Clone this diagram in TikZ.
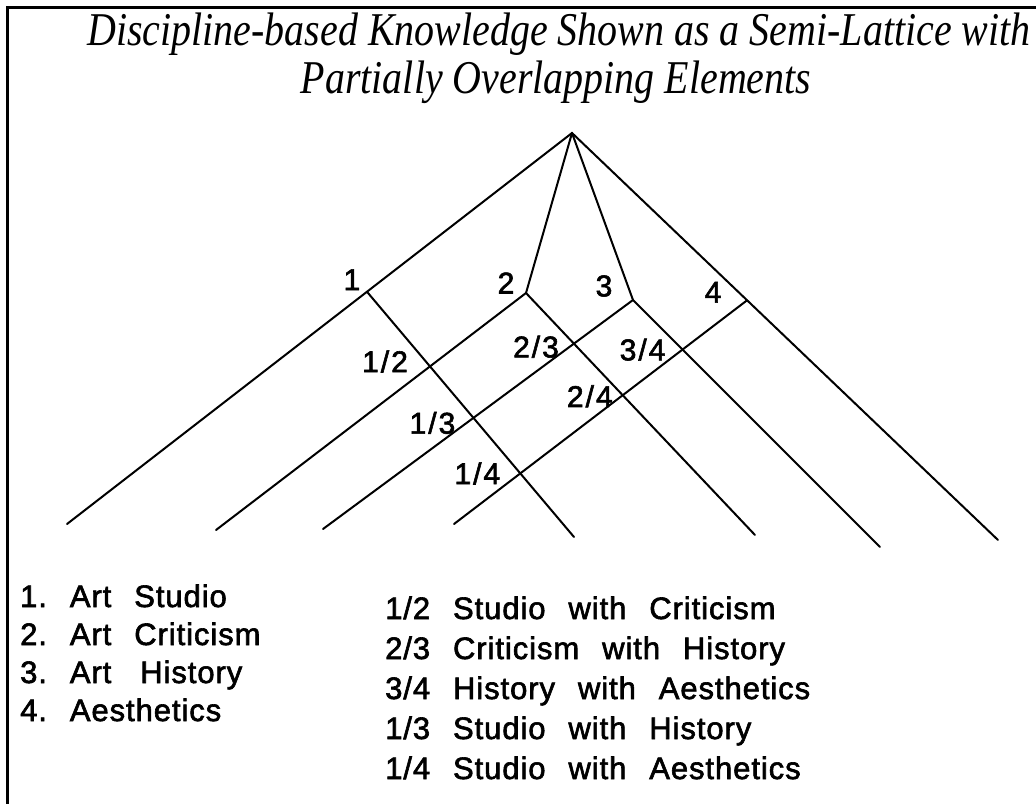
\documentclass[tikz,border=0pt]{standalone}
\usepackage{fontspec}
\usepackage{graphicx}
\setmainfont{Liberation Serif}
\newfontfamily\lblfont[FakeBold=2]{Liberation Sans}
\newfontfamily\legfont[LetterSpace=3,WordSpace=2.4,FakeBold=2]{Liberation Sans}
\usetikzlibrary{calc}
\begin{document}
\begin{tikzpicture}[x=1pt,y=-1pt,
  lat/.style={line width=2pt,line cap=round},
  lbl/.style={font=\lblfont\fontsize{30}{30}\selectfont,inner sep=0pt},
  leg/.style={font=\legfont\fontsize{31}{31}\selectfont,anchor=base west,inner sep=0pt},
  ttl/.style={font=\itshape\fontsize{47}{47}\selectfont,anchor=base,inner sep=0pt}]
\useasboundingbox (0,0) rectangle (1036,804);
\fill[white] (0,0) rectangle (1036,804);
\draw[line width=3pt] (1036,7) -- (7,7) -- (7,804);
% title
\node[ttl] (t1) at (559,45) {\scalebox{0.85}[1]{Discipline-based Knowledge Shown as a Semi-Lattice with}};
\node[ttl] (t2) at (556,93) {\scalebox{0.85}[1]{Partially Overlapping Elements}};
% lattice geometry
\coordinate (apex) at (572,133);
\coordinate (e0) at (67,524);
\coordinate (f4) at (998,540);
\coordinate (n1) at ($(apex)!0.406!(e0)$);
\coordinate (n4) at ($(apex)!0.411!(f4)$);
\coordinate (n2) at (526,293);
\coordinate (n3) at (633,300);
\coordinate (f1) at (574,537);
\coordinate (e2) at (216,530);
\coordinate (f2) at (755,535);
\coordinate (e3) at (323,529);
\coordinate (f3) at (880,547);
\coordinate (e4) at (454,524);
\coordinate (p12) at (intersection of n1--f1 and n2--e2);
\coordinate (p13) at (intersection of n1--f1 and n3--e3);
\coordinate (p14) at (intersection of n1--f1 and n4--e4);
\coordinate (p23) at (intersection of n2--f2 and n3--e3);
\coordinate (p24) at (intersection of n2--f2 and n4--e4);
\coordinate (p34) at (intersection of n3--f3 and n4--e4);
\draw[lat] (e0) -- (apex) -- (f4);
\draw[lat] (apex) -- (n2);
\draw[lat] (apex) -- (n3);
\draw[lat] (n1) -- (f1);
\draw[lat] (e2) -- (n2) -- (f2);
\draw[lat] (e3) -- (n3) -- (f3);
\draw[lat] (n4) -- (e4);
% labels
\node[lbl] (l1) at ($(n1)+(-15,-12)$) {1};
\node[lbl] (l2) at ($(n2)+(-20,-10)$) {2};
\node[lbl] (l3) at ($(n3)+(-29,-14)$) {3};
\node[lbl] (l4) at ($(n4)+(-34,-8)$) {4};
\node[lbl] (l12) at ($(p12)+(-45,-5)$) {1\kern2pt/\kern2pt2};
\node[lbl] (l13) at ($(p13)+(-41,5)$) {1\kern2pt/\kern2pt3};
\node[lbl] (l14) at ($(p14)+(-43,0)$) {1\kern2pt/\kern2pt4};
\node[lbl] (l23) at ($(p23)+(-38,3)$) {2\kern2pt/\kern2pt3};
\node[lbl] (l24) at ($(p24)+(-33,1)$) {2\kern2pt/\kern2pt4};
\node[lbl] (l34) at ($(p34)+(-40,0)$) {3\kern2pt/\kern2pt4};
% legend
\node[leg] (a1) at (20,607) {1.\ Art Studio};
\node[leg] (a2) at (20,645) {2.\ Art Criticism};
\node[leg] (a3) at (20,683) {3.\ Art\hspace{6pt} History};
\node[leg] (a4) at (20,721) {4.\ Aesthetics};
\node[leg] (b1) at (385,619) {1/2 Studio with Criticism};
\node[leg] (b2) at (385,659) {2/3 Criticism with History};
\node[leg] (b3) at (385,699) {3/4 History with Aesthetics};
\node[leg] (b4) at (385,739) {1/3 Studio with History};
\node[leg] (b5) at (385,779) {1/4 Studio with Aesthetics};
\end{tikzpicture}
\end{document}
